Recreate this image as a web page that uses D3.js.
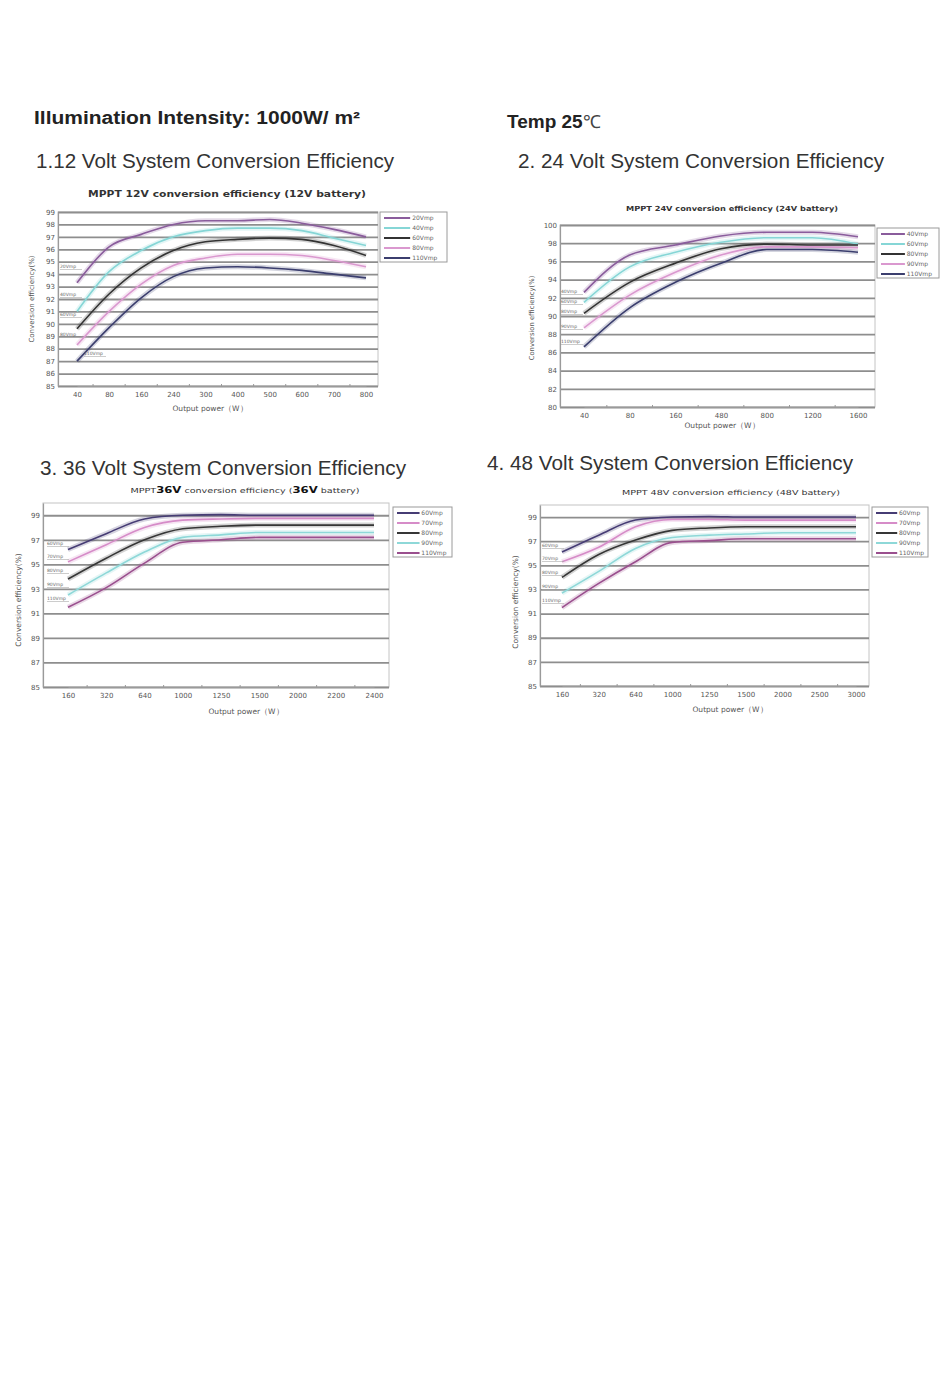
<!DOCTYPE html>
<html>
<head>
<meta charset="utf-8">
<script src="https://cdn.jsdelivr.net/npm/d3@7"></script>
<style>
  html, body { margin: 0; padding: 0; background: #fff; }
  svg { display: block; }
</style>
</head>
<body>
<svg id="page" width="950" height="1397"></svg>
<script>
// ---- data ----
const ticks12 = ["40", "80", "160", "240", "300", "400", "500", "600", "700", "800"];
const names12 = ["20Vmp", "40Vmp", "60Vmp", "80Vmp", "110Vmp"];
const eff12 = [
  [93.3, 96.2, 97.2, 98.0, 98.3, 98.3, 98.4, 98.1, 97.6, 97.0],
  [91.0, 94.2, 95.9, 97.0, 97.5, 97.7, 97.7, 97.5, 96.9, 96.3],
  [89.6, 92.4, 94.5, 95.9, 96.6, 96.8, 96.9, 96.8, 96.3, 95.5],
  [88.3, 91.0, 93.2, 94.7, 95.3, 95.6, 95.6, 95.5, 95.1, 94.6],
  [87.0, 89.7, 92.1, 93.8, 94.5, 94.6, 94.5, 94.3, 94.0, 93.7],
];

const ticks24 = ["40", "80", "160", "480", "800", "1200", "1600"];
const names24 = ["40Vmp", "60Vmp", "80Vmp", "90Vmp", "110Vmp"];
const eff24 = [
  [92.6, 96.7, 97.8, 98.8, 99.2, 99.2, 98.7],
  [91.5, 95.4, 97.0, 98.1, 98.6, 98.6, 97.9],
  [90.3, 93.7, 95.8, 97.4, 97.9, 97.8, 97.8],
  [88.7, 92.3, 94.8, 96.7, 97.6, 97.6, 97.5],
  [86.6, 90.9, 93.7, 95.8, 97.3, 97.3, 97.0],
];

const ticks36 = ["160", "320", "640", "1000", "1250", "1500", "2000", "2200", "2400"];
const names36 = ["60Vmp", "70Vmp", "80Vmp", "90Vmp", "110Vmp"];
const eff36 = [
  [96.2, 97.5, 98.7, 99.0, 99.05, 99.0, 99.0, 99.0, 99.0],
  [95.2, 96.6, 98.0, 98.6, 98.7, 98.75, 98.75, 98.75, 98.75],
  [93.8, 95.5, 97.0, 97.9, 98.1, 98.2, 98.2, 98.2, 98.2],
  [92.5, 94.3, 96.0, 97.2, 97.4, 97.6, 97.6, 97.6, 97.6],
  [91.5, 93.1, 95.1, 96.8, 97.0, 97.2, 97.2, 97.2, 97.2],
];

const ticks48 = ["160", "320", "640", "1000", "1250", "1500", "2000", "2500", "3000"];
const names48 = ["60Vmp", "70Vmp", "80Vmp", "90Vmp", "110Vmp"];
const eff48 = [
  [96.1, 97.5, 98.75, 99.0, 99.05, 99.0, 99.0, 99.0, 99.0],
  [95.3, 96.5, 98.2, 98.8, 98.8, 98.75, 98.75, 98.75, 98.75],
  [94.0, 95.9, 97.1, 97.9, 98.1, 98.2, 98.2, 98.2, 98.2],
  [92.7, 94.5, 96.4, 97.3, 97.5, 97.6, 97.7, 97.7, 97.7],
  [91.5, 93.5, 95.3, 96.9, 97.05, 97.2, 97.2, 97.2, 97.2],
];

// ---- styles ----
const COLORS_A = ["#8a5c9c", "#86d6d6", "#333333", "#da98cf", "#3b3e6e"];
const COLORS_B = ["#463c74", "#d68cc8", "#363636", "#8ed8d8", "#9a4f8e"];
const FONT = "'Liberation Sans', Arial, sans-serif";
const SMALL = "'DejaVu Sans', 'Open Sans', sans-serif";

const svg = d3.select("#page");

function headerText(x, y, str, size, weight, len, fill) {
  svg.append("text")
    .attr("x", x).attr("y", y)
    .attr("font-family", FONT)
    .attr("font-size", size)
    .attr("font-weight", weight)
    .attr("fill", fill || "#2b2b2b")
    .attr("textLength", len)
    .attr("lengthAdjust", "spacingAndGlyphs")
    .text(str);
}

headerText(34, 124, "Illumination  Intensity: 1000W/ m²", 18, "bold", 326, "#222");
const temp = svg.append("text")
  .attr("x", 507).attr("y", 128)
  .attr("font-family", FONT).attr("font-size", 19).attr("fill", "#222");
temp.append("tspan").attr("font-weight", "bold").text("Temp  25");
temp.append("tspan").attr("font-size", 18).attr("fill", "#444").text("℃");

headerText(36, 168, "1.12 Volt System Conversion Efficiency", 20, "normal", 358, "#333");
headerText(518, 168, "2.  24 Volt System Conversion Efficiency", 20, "normal", 366, "#333");
headerText(40, 475, "3.  36 Volt System Conversion Efficiency", 20, "normal", 366, "#333");
headerText(487, 470, "4. 48 Volt System Conversion Efficiency", 20, "normal", 366, "#333");

function drawChart(cfg) {
  const g = svg.append("g");
  const p = cfg.plot;

  const x = d3.scalePoint().domain(cfg.ticks).range([cfg.xFirst, cfg.xLast]);
  const y = d3.scaleLinear().domain(cfg.yDomain).range([p.y1, p.y0]);

  // plot frame
  g.append("rect")
    .attr("x", p.x0).attr("y", p.y0)
    .attr("width", p.x1 - p.x0).attr("height", p.y1 - p.y0)
    .attr("fill", "#fff").attr("stroke", "#c4c4c4").attr("stroke-width", 1);

  // horizontal grid
  const grid = g.append("g")
    .attr("transform", `translate(${p.x0},0)`)
    .call(d3.axisLeft(y).tickValues(cfg.yTicks).tickSize(-(p.x1 - p.x0)).tickFormat(""));
  grid.select(".domain").remove();
  grid.selectAll(".tick line").attr("stroke", "#8e8e8e").attr("stroke-width", 1.8);

  // y tick labels
  const ya = g.append("g")
    .attr("transform", `translate(${p.x0},0)`)
    .call(d3.axisLeft(y).tickValues(cfg.yTicks).tickSize(0).tickPadding(3).tickFormat(d3.format("d")));
  ya.select(".domain").attr("stroke", "#9a9a9a").attr("stroke-width", 1.2);
  ya.selectAll("text").attr("font-family", SMALL).attr("font-size", 7).attr("fill", "#555");

  // x axis
  const xa = g.append("g")
    .attr("transform", `translate(0,${p.y1})`)
    .call(d3.axisBottom(x).tickSize(0).tickPadding(6));
  xa.select(".domain").attr("stroke", "#9a9a9a").attr("stroke-width", 1.2);
  xa.selectAll("text").attr("font-family", SMALL).attr("font-size", 7).attr("fill", "#555");
  // small category separators on the bottom edge
  const sep = cfg.ticks.slice(1).map((t, i) => (x(cfg.ticks[i]) + x(t)) / 2);
  g.selectAll("line.sep").data(sep).join("line")
    .attr("class", "sep")
    .attr("x1", (d) => d).attr("x2", (d) => d)
    .attr("y1", p.y1 - 2).attr("y2", p.y1)
    .attr("stroke", "#999").attr("stroke-width", 1);

  // curves
  const line = d3.line()
    .x((d, i) => x(cfg.ticks[i]))
    .y((d) => y(d))
    .curve(d3.curveMonotoneX);

  cfg.series.forEach((vals, i) => {
    g.append("path").datum(vals)
      .attr("d", line).attr("fill", "none")
      .attr("stroke", cfg.colors[i]).attr("stroke-opacity", 0.22)
      .attr("stroke-width", 5);
  });
  cfg.series.forEach((vals, i) => {
    g.append("path").datum(vals)
      .attr("d", line).attr("fill", "none")
      .attr("stroke", cfg.colors[i]).attr("stroke-width", 1.6);
  });

  // small curve labels at the left end
  cfg.names.forEach((n, i) => {
    const lp = cfg.labelPos[i];
    g.append("text")
      .attr("x", lp[0]).attr("y", lp[1])
      .attr("font-family", SMALL).attr("font-size", 4.5)
      .attr("fill", "#666").text(n);
    g.append("line")
      .attr("x1", lp[0]).attr("x2", lp[0] + 22)
      .attr("y1", lp[1] + 1.5).attr("y2", lp[1] + 1.5)
      .attr("stroke", "#aaa").attr("stroke-width", 0.6);
  });

  // title
  const title = g.append("text")
    .attr("x", cfg.title.x).attr("y", cfg.title.y)
    .attr("text-anchor", "middle")
    .attr("font-family", SMALL).attr("font-size", cfg.title.size)
    .attr("font-weight", cfg.title.weight).attr("fill", "#333")
    .attr("textLength", cfg.title.len).attr("lengthAdjust", "spacingAndGlyphs");
  cfg.title.parts.forEach((part) => {
    const t = title.append("tspan").text(part[0]);
    if (part[1]) t.attr("font-weight", "bold").attr("font-size", cfg.title.size + 1.5).attr("fill", "#111");
  });

  // axis titles
  g.append("text")
    .attr("x", cfg.xLabel.x).attr("y", cfg.xLabel.y)
    .attr("text-anchor", "middle")
    .attr("font-family", SMALL).attr("font-size", 7.5).attr("fill", "#555")
    .text("Output power（W）");
  g.append("text")
    .attr("transform", `translate(${cfg.yLabel.x},${cfg.yLabel.y}) rotate(-90)`)
    .attr("text-anchor", "middle")
    .attr("font-family", SMALL).attr("font-size", cfg.yLabel.size).attr("fill", "#555")
    .text("Conversion efficiency(%)");

  // legend
  const lb = cfg.legend;
  g.append("rect")
    .attr("x", lb.x).attr("y", lb.y).attr("width", lb.w).attr("height", lb.h)
    .attr("fill", "#fff").attr("stroke", "#9a9a9a").attr("stroke-width", 1);
  cfg.names.forEach((n, i) => {
    const ry = lb.y + 6 + i * ((lb.h - 10) / 4);
    g.append("line")
      .attr("x1", lb.x + 4).attr("x2", lb.x + lb.w * 0.45)
      .attr("y1", ry).attr("y2", ry)
      .attr("stroke", cfg.colors[i]).attr("stroke-width", 2);
    g.append("text")
      .attr("x", lb.x + lb.w * 0.48).attr("y", ry + 2)
      .attr("font-family", SMALL).attr("font-size", 6).attr("fill", "#666")
      .text(n);
  });
}

drawChart({
  ticks: ticks12, names: names12, series: eff12, colors: COLORS_A,
  plot: { x0: 58, x1: 378, y0: 212, y1: 386 },
  xFirst: 77, xLast: 366,
  yDomain: [85, 99], yTicks: d3.range(85, 100, 1),
  title: { x: 227, y: 197, size: 8.5, weight: "bold", len: 278, parts: [["MPPT 12V conversion efficiency (12V battery)"]] },
  xLabel: { x: 210, y: 411 }, yLabel: { x: 34, y: 299, size: 7 },
  legend: { x: 380, y: 212, w: 67, h: 50 },
  labelPos: [[60, 268], [60, 296], [60, 316], [60, 336], [84, 355]],
});

drawChart({
  ticks: ticks24, names: names24, series: eff24, colors: COLORS_A,
  plot: { x0: 560, x1: 875, y0: 225, y1: 407 },
  xFirst: 584, xLast: 858,
  yDomain: [80, 100], yTicks: d3.range(80, 101, 2),
  title: { x: 732, y: 211, size: 7, weight: "bold", len: 212, parts: [["MPPT 24V conversion efficiency (24V battery)"]] },
  xLabel: { x: 722, y: 428 }, yLabel: { x: 534, y: 318, size: 6.8 },
  legend: { x: 877, y: 228, w: 62, h: 50 },
  labelPos: [[561, 293], [561, 303], [561, 313], [561, 328], [561, 343]],
});

drawChart({
  ticks: ticks36, names: names36, series: eff36, colors: COLORS_B,
  plot: { x0: 43, x1: 389, y0: 503, y1: 687 },
  xFirst: 68, xLast: 374,
  yDomain: [85, 100], yTicks: d3.range(85, 100, 2),
  title: { x: 245, y: 493, size: 7, weight: "normal", len: 229, parts: [["MPPT"], ["36V", true], [" conversion efficiency ("], ["36V", true], [" battery)"]] },
  xLabel: { x: 246, y: 714 }, yLabel: { x: 21, y: 600, size: 7.5 },
  legend: { x: 393, y: 507, w: 59, h: 50 },
  labelPos: [[47, 545], [47, 558], [47, 572], [47, 586], [47, 600]],
});

drawChart({
  ticks: ticks48, names: names48, series: eff48, colors: COLORS_B,
  plot: { x0: 540, x1: 869, y0: 505, y1: 686 },
  xFirst: 562, xLast: 856,
  yDomain: [85, 100], yTicks: d3.range(85, 100, 2),
  title: { x: 731, y: 495, size: 7, weight: "normal", len: 218, parts: [["MPPT 48V conversion efficiency (48V battery)"]] },
  xLabel: { x: 730, y: 712 }, yLabel: { x: 518, y: 602, size: 7.5 },
  legend: { x: 872, y: 507, w: 56, h: 50 },
  labelPos: [[542, 547], [542, 560], [542, 574], [542, 588], [542, 602]],
});
</script>
</body>
</html>
